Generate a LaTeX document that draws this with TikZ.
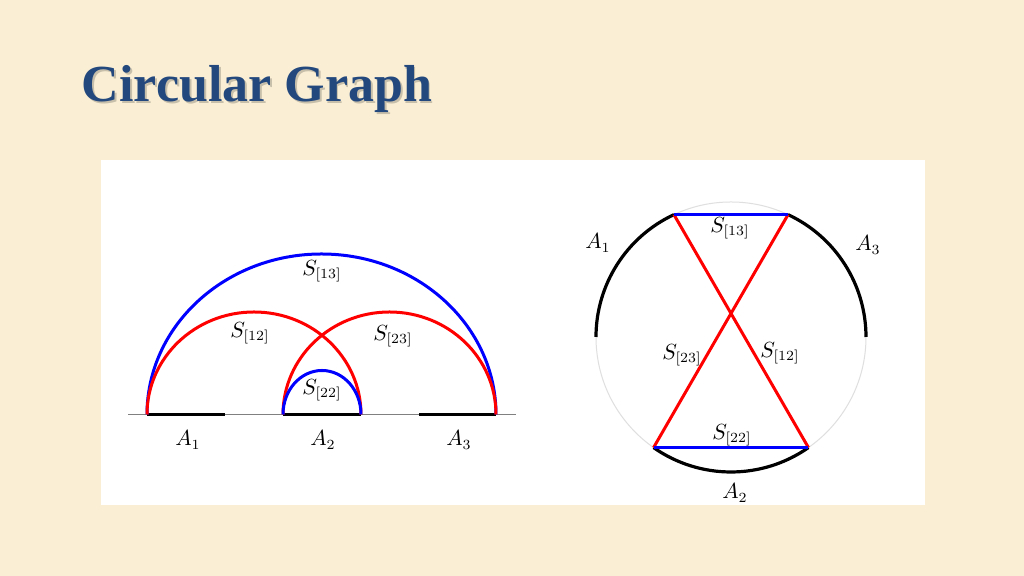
\documentclass[tikz,border=0pt]{standalone}
\usepackage{amsmath}
\usepackage{fontspec}
\usepackage{tikz}
\usetikzlibrary{positioning,backgrounds}
\newfontfamily\titlefont{Liberation Serif}
\definecolor{paper}{RGB}{250,239,213}
\definecolor{titleblue}{RGB}{35,72,125}

\begin{document}
\begin{tikzpicture}[
x=0.5pt,y=0.5pt,
font=\fontsize{10.5}{12}\selectfont,
redarc/.style={line width=1.5pt,color=red},
bluearc/.style={line width=1.5pt,color=blue},
blackseg/.style={line width=1.6pt,color=black},
lbl/.style={inner sep=0pt},
headline/.style={anchor=base west,inner sep=0pt,font=\titlefont\bfseries\fontsize{26}{30}\selectfont}]
\useasboundingbox (0,0) rectangle (1024,576);
\fill[paper] (0,0) rectangle (1024,576);
\fill[white] (101,71) rectangle (925,416);

% Title
\node (shadow) [headline,text=black,opacity=0.2] at (83.5,472) {Circular Graph};
\node (title) [headline,text=titleblue] at (81.5,474) {Circular Graph};

% Left: line picture
\draw[gray,line width=0.75pt] (128,161.5) coordinate (lineL) -- (516,161.5) coordinate (lineR);
\draw
(147,161.5) coordinate (a1)
(225,161.5) coordinate (a1e)
(283,161.5) coordinate (a2)
(361,161.5) coordinate (a2e)
(419,161.5) coordinate (a3)
(496,161.5) coordinate (a3e);
\draw[blackseg] (a1) -- (a1e);
\draw[blackseg] (a2) -- (a2e);
\draw[blackseg] (a3) -- (a3e);

\draw[bluearc] (a1) arc[start angle=180,end angle=0,x radius=174.5,y radius=160.5];
\draw[redarc] (a1) arc[start angle=180,end angle=0,x radius=107,y radius=102.5];
\draw[redarc] (a2) arc[start angle=180,end angle=0,x radius=106.5,y radius=102.5];
\draw[bluearc] (a2) arc[start angle=180,end angle=0,x radius=39,y radius=44];

\node (s13l) [lbl] at (322,305) {$S_{[13]}$};
\node (s12l) [lbl] at (250,243) {$S_{[12]}$};
\node (s23l) [lbl] at (393,240) {$S_{[23]}$};
\node (s22l) [lbl] at (322,186) {$S_{[22]}$};
\node (A1l) [lbl] at (188,136) {$A_1$};
\node (A2l) [lbl] at (323,136) {$A_2$};
\node (A3l) [lbl] at (459,136) {$A_3$};

% Right: circle picture
\coordinate (O) at (731,239);
\draw[gray!25,line width=0.5pt] (O) circle[radius=135];
\path
(O) ++(115:135) coordinate (p1)
(O) ++(65:135) coordinate (p3)
(O) ++(235:135) coordinate (q1)
(O) ++(305:135) coordinate (q2);

\draw[blackseg] (p1) arc[start angle=115,end angle=180,radius=135];
\draw[blackseg] (O) ++(0:135) arc[start angle=0,end angle=65,radius=135];
\draw[blackseg] (q1) arc[start angle=235,end angle=305,radius=135];

\draw[redarc] (p1) -- (q2);
\draw[redarc] (p3) -- (q1);
\draw[bluearc] (p1) -- (p3);
\draw[bluearc] (q1) -- (q2);

\node (s13r) [lbl] at (730,348) {$S_{[13]}$};
\node (s23r) [lbl] at (682,221) {$S_{[23]}$};
\node (s12r) [lbl] at (780,223) {$S_{[12]}$};
\node (s22r) [lbl] at (732,141) {$S_{[22]}$};
\node (A1r) [lbl] at (598,333) {$A_1$};
\node (A3r) [lbl] at (868,331) {$A_3$};
\node (A2r) [lbl] at (735,83) {$A_2$};

\end{tikzpicture}
\end{document}
